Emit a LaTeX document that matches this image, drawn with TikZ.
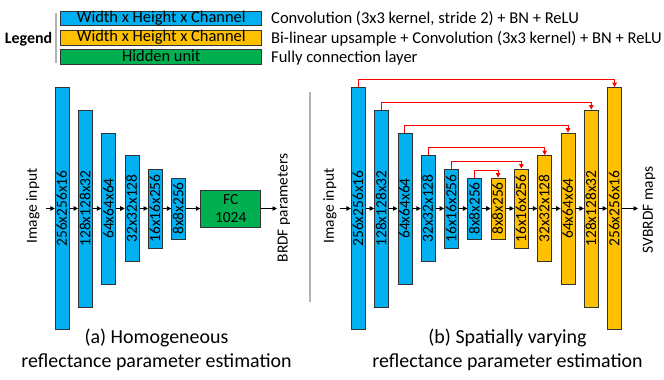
\documentclass[tikz,border=0pt]{standalone}
\usepackage{fontspec}
\setmainfont{Carlito}
\usetikzlibrary{arrows.meta}
\definecolor{convblue}{RGB}{0,176,240}
\definecolor{uporange}{RGB}{255,192,0}
\definecolor{fcgreen}{RGB}{0,176,80}
\definecolor{skipred}{RGB}{255,0,0}
\tikzset{
  barbase/.style={draw=black!80, line width=0.8bp, inner sep=0pt, rotate=90,
    minimum height=14bp, text height=10bp, text depth=0.5bp,
    font=\fontsize{15.5}{15.5}\selectfont},
  conv/.style={barbase, fill=convblue},
  up/.style={barbase, fill=uporange},
  fcbox/.style={draw=black!80, line width=0.8bp, fill=fcgreen, inner sep=0pt,
    minimum width=60bp, minimum height=37bp, align=center,
    font=\fontsize{15.5}{18.5}\selectfont},
  legbox/.style={draw=black!80, line width=0.8bp, inner sep=0pt,
    minimum width=201bp, minimum height=14.7bp, text height=10.5bp, text depth=2.5bp,
    font=\fontsize{16.5}{16.5}\selectfont},
  legtext/.style={anchor=base west, inner sep=0pt, font=\fontsize{16.6}{16.6}\selectfont},
  flow/.style={line width=0.9bp, -{Triangle[width=4.5bp,length=4.5bp]}},
  skip/.style={draw=skipred, line width=0.9bp, -{Triangle[width=4.5bp,length=4.5bp]}},
  sidelabel/.style={rotate=90, inner sep=0pt, font=\fontsize{15.5}{15.5}\selectfont},
  caption/.style={align=center, inner sep=0pt, font=\fontsize{20}{24}\selectfont},
  sep/.style={draw=black!30, line width=1.2bp}
}
\begin{document}
\begin{tikzpicture}[x=1bp,y=-1bp]
\useasboundingbox (0,0) rectangle (664,379);
% Legend
\node[inner sep=0pt, font=\fontsize{16}{16}\selectfont\bfseries] (leg) at (28.6,39.3) {Legend};
\coordinate (legt) at (56,13);
\coordinate (legb) at (56,63);
\draw[sep] (legt) -- (legb);
\node[legbox, fill=convblue] (l1) at (161.3,18.3) {Width x Height x Channel};
\node[legbox, fill=uporange] (l2) at (161.3,37.9) {Width x Height x Channel};
\node[legbox, fill=fcgreen] (l3) at (161.3,57.2) {Hidden unit};
\node[legtext] (t1) at (271,23.6) {Convolution (3x3 kernel, stride 2) + BN + ReLU};
\node[legtext] (t2) at (271,43.2) {Bi-linear upsample + Convolution (3x3 kernel) + BN + ReLU};
\node[legtext] (t3) at (271,62.5) {Fully connection layer};

% Separator
\coordinate (st) at (310,92);
\coordinate (sb) at (310,302);
\draw[sep] (st) -- (sb);

% Left network
\node[sidelabel] (ina) at (33,206) {Image input};
\coordinate (inaa) at (46,208.5);
\node[conv, minimum width=242bp] (a1) at (62.2,208.5) {256x256x16};
\node[conv, minimum width=197bp] (a2) at (85.5,208.5) {128x128x32};
\node[conv, minimum width=151bp] (a3) at (108.8,208.5) {64x64x64};
\node[conv, minimum width=106bp] (a4) at (132.1,208.5) {32x32x128};
\node[conv, minimum width=79bp] (a5) at (155.4,208.5) {16x16x256};
\node[conv, minimum width=61bp] (a6) at (178.7,208.5) {8x8x256};
\node[fcbox] (fc) at (230.7,208.5) {FC\\1024};
\coordinate (outa) at (277,208.5);
\node[sidelabel] (brdf) at (284,208) {BRDF parameters};
\draw[flow] (inaa) -- (a1.north);
\draw[flow] (a1.south) -- (a2.north);
\draw[flow] (a2.south) -- (a3.north);
\draw[flow] (a3.south) -- (a4.north);
\draw[flow] (a4.south) -- (a5.north);
\draw[flow] (a5.south) -- (a6.north);
\draw[flow] (a6.south) -- (fc.west);
\draw[flow] (fc.east) -- (outa);
\node[caption] (capa) at (156.5,350) {(a) Homogeneous\\reflectance parameter estimation};

% Right network
\node[sidelabel] (inb) at (330,206) {Image input};
\coordinate (inbb) at (340,208.5);
\node[conv, minimum width=242bp] (b1) at (358.3,208.5) {256x256x16};
\node[conv, minimum width=197bp] (b2) at (381.6,208.5) {128x128x32};
\node[conv, minimum width=151bp] (b3) at (404.9,208.5) {64x64x64};
\node[conv, minimum width=106bp] (b4) at (428.2,208.5) {32x32x128};
\node[conv, minimum width=79bp] (b5) at (451.5,208.5) {16x16x256};
\node[conv, minimum width=61bp] (b6) at (474.8,208.5) {8x8x256};
\node[up, minimum width=61bp] (o1) at (498.1,208.5) {8x8x256};
\node[up, minimum width=79bp] (o2) at (521.4,208.5) {16x16x256};
\node[up, minimum width=106bp] (o3) at (544.7,208.5) {32x32x128};
\node[up, minimum width=151bp] (o4) at (568.0,208.5) {64x64x64};
\node[up, minimum width=197bp] (o5) at (591.3,208.5) {128x128x32};
\node[up, minimum width=242bp] (o6) at (614.6,208.5) {256x256x16};
\coordinate (outb) at (638,208.5);
\node[sidelabel] (svb) at (649,210) {SVBRDF maps};
\draw[flow] (inbb) -- (b1.north);
\draw[flow] (b1.south) -- (b2.north);
\draw[flow] (b2.south) -- (b3.north);
\draw[flow] (b3.south) -- (b4.north);
\draw[flow] (b4.south) -- (b5.north);
\draw[flow] (b5.south) -- (b6.north);
\draw[flow] (b6.south) -- (o1.north);
\draw[flow] (o1.south) -- (o2.north);
\draw[flow] (o2.south) -- (o3.north);
\draw[flow] (o3.south) -- (o4.north);
\draw[flow] (o4.south) -- (o5.north);
\draw[flow] (o5.south) -- (o6.north);
\draw[flow] (o6.south) -- (outb);
% Skip connections
\draw[skip] (b1.east) -- ++(0,-7.5) -| (o6.east);
\draw[skip] (b2.east) -- ++(0,-7.5) -| (o5.east);
\draw[skip] (b3.east) -- ++(0,-7.5) -| (o4.east);
\draw[skip] (b4.east) -- ++(0,-7.5) -| (o3.east);
\draw[skip] (b5.east) -- ++(0,-7.5) -| (o2.east);
\draw[skip] (b6.east) -- ++(0,-7.5) -| (o1.east);
\node[caption] (capb) at (507.5,350) {(b) Spatially varying\\reflectance parameter estimation};
\end{tikzpicture}
\end{document}
